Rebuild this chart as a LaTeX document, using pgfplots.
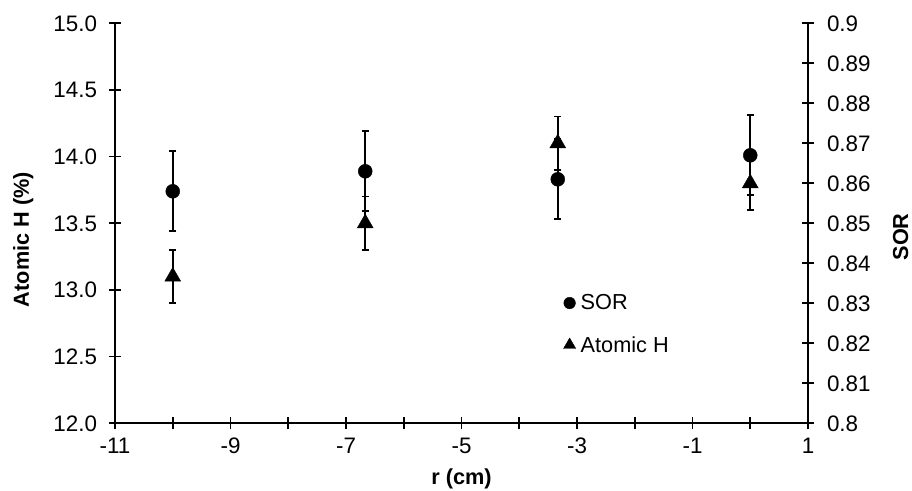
\documentclass[border=0pt]{standalone}
\usepackage{fontspec}
\setmainfont{Liberation Sans}
\usepackage{pgfplots}
\pgfplotsset{compat=1.18}
\usepackage{pgfplotstable}

\pgfplotstableread{
x y ey
-10 13.1 0.2
-6.667 13.5 0.2
-3.333 14.1 0.2
0 13.8 0.2
}\atomich
\pgfplotstableread{
x y ey
-10 0.858 0.01
-6.667 0.863 0.01
-3.333 0.861 0.01
0 0.867 0.01
}\sor

\newcommand{\bigfont}{\fontsize{21.7}{26}\selectfont}
\newcommand{\tickfont}{\fontsize{22.4}{27}\selectfont}

\pgfplotsset{
 common/.style={
  width=693pt, height=400pt, scale only axis,
  xmin=-11, xmax=1,
  clip=false,
  tick align=center,
  major tick length=12pt, minor tick length=12pt,
  every tick/.style={black, line width=1.7pt},
  axis line style={black, line width=1.7pt},
  /pgf/number format/assume math mode=true,
 },
 ebars/.style={error bars/y dir=both, error bars/y explicit,
   error bars/error bar style={line width=1.7pt, black},
   error bars/error mark options={rotate=90, mark size=3.5pt, line width=1.7pt, black}},
}

\begin{document}
\begin{tikzpicture}
\begin{axis}[common,
 axis x line*=bottom, axis y line*=left,
 ymin=12, ymax=15, ytick={12,12.5,13,13.5,14,14.5,15},
 yticklabel style={font=\tickfont, xshift=-8.5pt, /pgf/number format/.cd, fixed, fixed zerofill, precision=1},
 xticklabel style={font=\tickfont, yshift=-5pt},
 xtick={-11,-9,-7,-5,-3,-1,1}, minor xtick={-10,-8,-6,-4,-2,0},
 ]
\addplot[only marks, mark=triangle*, mark size=9.2pt, black, ebars]
  table[x=x, y=y, y error=ey]{\atomich};
\node[rotate=90, anchor=north, inner sep=0pt, font=\bfseries\bigfont]
  at ([xshift=-102pt]rel axis cs:0,0.4595) {Atomic H (\%)};
\node[anchor=base, inner sep=0pt, font=\bfseries\bigfont]
  at ([yshift=-61.5pt]rel axis cs:0.5,0) {r (cm)};
\end{axis}
\begin{axis}[common,
 axis x line=none, axis y line*=right,
 ymin=0.8, ymax=0.9,
 ytick={0.8,0.81,0.82,0.83,0.84,0.85,0.86,0.87,0.88,0.89,0.9},
 yticklabel style={font=\tickfont, xshift=9.5pt, /pgf/number format/.cd, fixed, precision=2},
 legend cell align=left,
 legend style={at={(0.647,0.327)}, anchor=north west, draw=none, fill=none,
   font=\bigfont, inner sep=0pt, row sep=21pt, column sep=3pt},
 legend image code/.code={\draw[#1] plot coordinates {(0pt,0pt)};},
 ]
\addplot[forget plot, only marks, mark=*, mark size=7pt, black, ebars]
  table[x=x, y=y, y error=ey]{\sor};
\addlegendimage{only marks, mark=*, mark size=5.8pt, black}
\addlegendentry{SOR}
\addlegendimage{only marks, mark=triangle*, mark size=7pt, black}
\addlegendentry{Atomic H}
\node[rotate=90, anchor=base, inner sep=0pt, font=\bfseries\bigfont]
  at ([xshift=100pt]rel axis cs:1,0.466) {SOR};
\end{axis}
\path ([shift={(-115pt,-66.7pt)}]current axis.south west) rectangle ++(912pt,490pt);
\end{tikzpicture}
\end{document}
